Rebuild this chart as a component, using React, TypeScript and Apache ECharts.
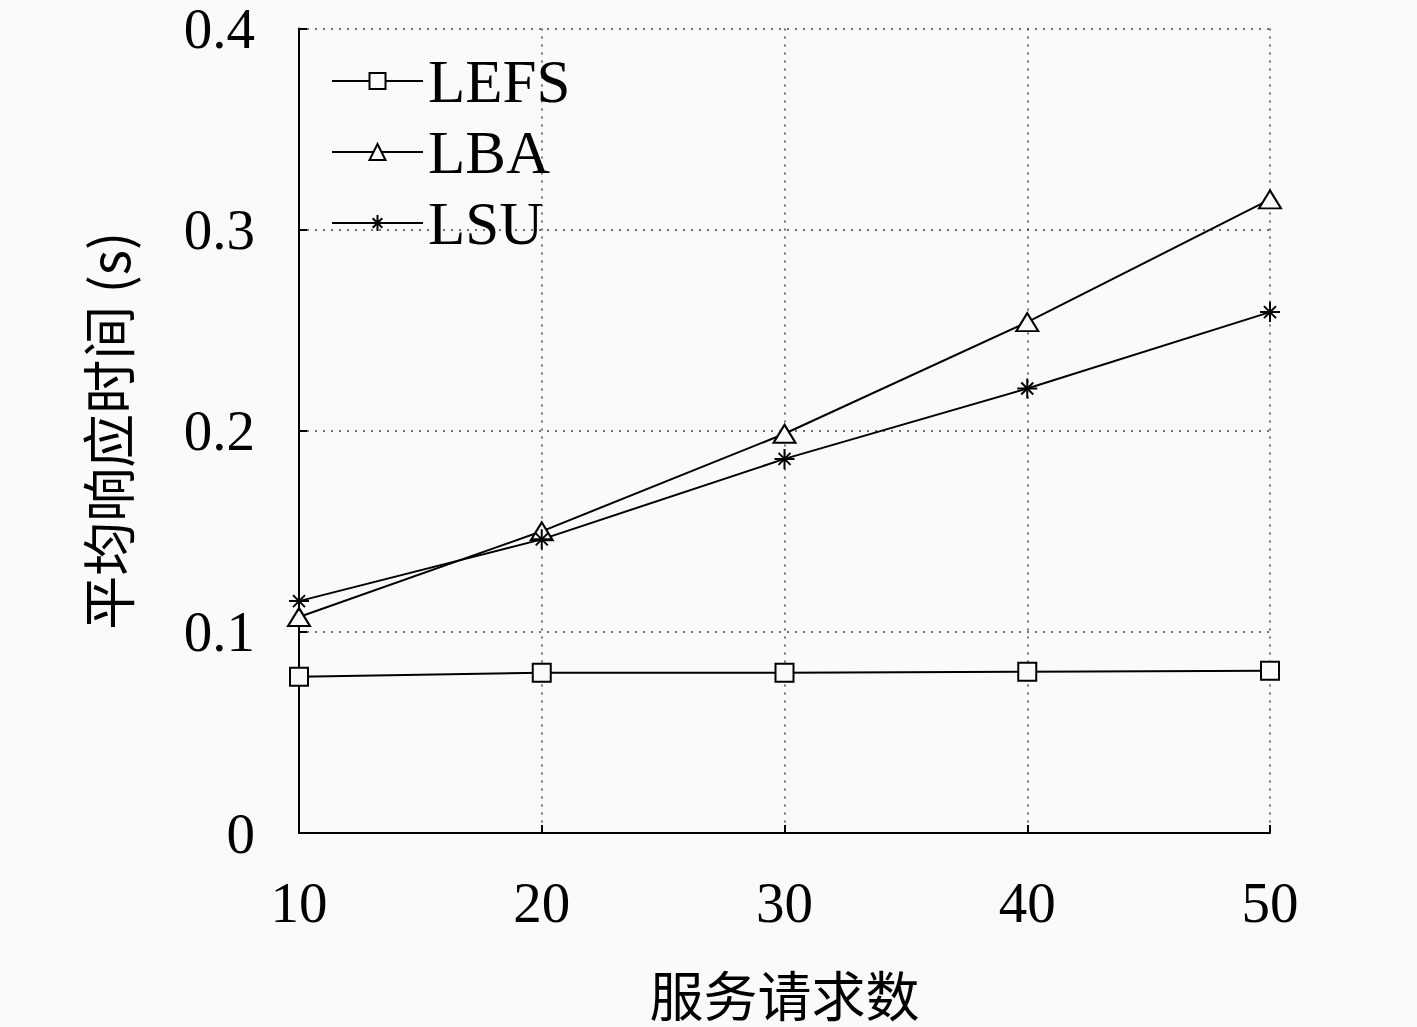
import React, { useEffect, useRef } from "react";
import * as echarts from "echarts";

const xValues = [10, 20, 30, 40, 50];
const lefs = [0.0777, 0.0797, 0.0797, 0.0802, 0.0807];
const lba = [0.1074, 0.15, 0.1985, 0.254, 0.315];
const lsu = [0.1153, 0.146, 0.186, 0.221, 0.259];
const seriesNames = ["LEFS", "LBA", "LSU"];
const xName = "服务请求数";
const yName = "平均响应时间 (s)";

const BG = "#fafafa";
const SERIF = "'Liberation Serif', 'DejaVu Serif', serif";
const CJK = "'Noto Sans CJK SC', sans-serif";
const STAR = "path://M0,-10L0,10M-10,0L10,0M-6,-6L6,6M-6,6L6,-6";

const pair = (ys: number[]) => xValues.map((x, i) => [x, ys[i]]);

export default function App() {
  const ref = useRef<HTMLDivElement>(null);
  useEffect(() => {
    document.body.style.margin = "0";
    document.body.style.background = BG;
    const chart = echarts.init(ref.current!, null, { renderer: "svg" });
    const common = {
      type: "line",
      lineStyle: { color: "#000", width: 2 },
      itemStyle: { color: BG, borderColor: "#000", borderWidth: 2 },
      emphasis: { disabled: true },
    };
    chart.setOption({
      animation: false,
      backgroundColor: BG,
      grid: { left: 299, right: 147, top: 25, bottom: 194 },
      legend: {
        orient: "vertical",
        left: 326,
        top: 45,
        itemWidth: 91,
        itemHeight: 20,
        itemGap: 9,
        textStyle: { fontFamily: SERIF, fontSize: 61, color: "#000", lineHeight: 62 },
        data: seriesNames,
      },
      xAxis: {
        type: "value",
        min: 10,
        max: 50,
        interval: 10,
        name: xName,
        nameLocation: "middle",
        nameGap: 133,
        nameTextStyle: { fontFamily: CJK, fontSize: 54, color: "#000" },
        axisLine: { show: true, lineStyle: { color: "#000", width: 2 } },
        axisTick: { show: true, inside: true, length: 8, lineStyle: { color: "#000", width: 2 } },
        axisLabel: { fontFamily: SERIF, fontSize: 57, color: "#000", margin: 41 },
        splitLine: { show: true, lineStyle: { type: [2, 6], color: "#444", width: 1.5 } },
      },
      yAxis: {
        type: "value",
        min: 0,
        max: 0.4,
        interval: 0.1,
        name: yName,
        nameLocation: "middle",
        nameGap: 166,
        nameRotate: 90,
        nameTextStyle: { fontFamily: CJK, fontSize: 54, color: "#000" },
        axisLine: { show: true, lineStyle: { color: "#000", width: 2 } },
        axisTick: { show: true, inside: true, length: 8, lineStyle: { color: "#000", width: 2 } },
        axisLabel: {
          fontFamily: SERIF,
          fontSize: 57,
          color: "#000",
          margin: 44,
          formatter: (v: number) => (v === 0 ? "0" : v.toFixed(1)),
        },
        splitLine: { show: true, lineStyle: { type: [2, 6], color: "#444", width: 1.5 } },
      },
      series: [
        { ...common, name: seriesNames[0], data: pair(lefs), symbol: "rect", symbolSize: 18 },
        { ...common, name: seriesNames[1], data: pair(lba), symbol: "triangle", symbolSize: [22, 18] },
        {
          ...common,
          name: seriesNames[2],
          data: pair(lsu),
          symbol: STAR,
          symbolSize: 20,
          itemStyle: { color: "none", borderColor: "#000", borderWidth: 2 },
        },
      ],
    });
    return () => chart.dispose();
  }, []);
  return <div ref={ref} style={{ width: 1417, height: 1027 }} />;
}
